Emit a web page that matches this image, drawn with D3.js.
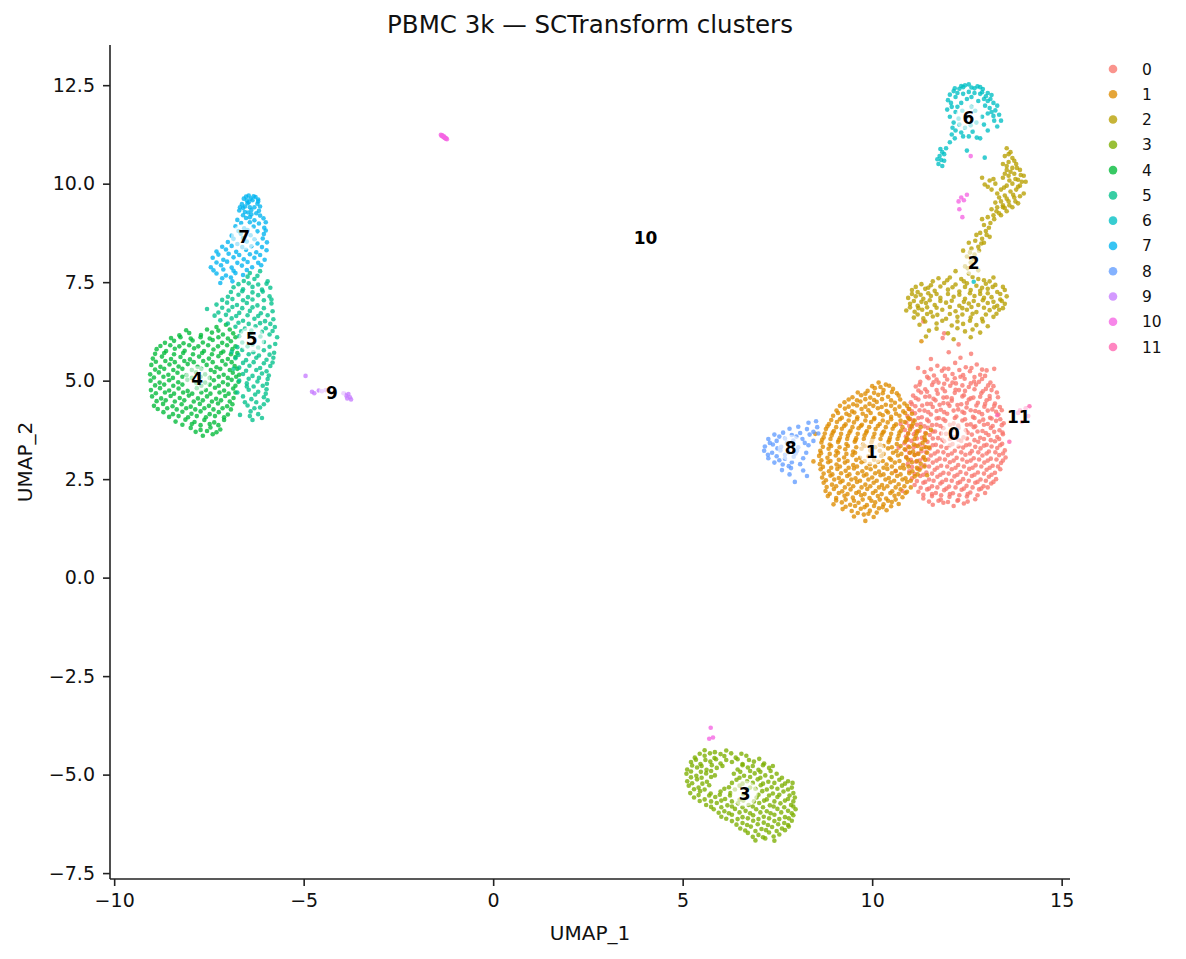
<!DOCTYPE html>
<html><head><meta charset="utf-8">
<script src="https://cdn.jsdelivr.net/npm/d3@7"></script>
<style>body{margin:0;background:#fff}svg{font-family:"DejaVu Sans",sans-serif}</style>
</head><body><svg id="c" width="1186" height="959"></svg>
<script>
const clusterNames = ["0","1","2","3","4","5","6","7","8","9","10","11"];
const clusterColors = ["#F8766D","#DE8C00","#B79F00","#7CAE00","#00BA38","#00C08B","#00BFC4","#00B4F0","#619CFF","#C77CFF","#F564E3","#FF64B0"];
const xTicks = [-10,-5,0,5,10,15];
const yTicks = [-7.5,-5,-2.5,0,2.5,5,7.5,10,12.5];

const c0 = [[11.72,5.38],[12.01,5.30],[12.19,5.45],[12.47,5.34],[12.76,5.41],
[11.38,5.22],[11.63,5.13],[11.84,5.25],[12.12,5.17],[12.33,5.10],[12.58,5.24],[12.85,5.15],[13.02,5.26],
[11.27,4.97],[11.49,5.06],[11.75,4.95],[11.98,5.03],[12.21,4.93],[12.44,5.05],[12.69,4.98],[12.9,5.04],[13.12,4.95],
[11.15,4.85],[11.4,4.78],[11.58,4.89],[11.86,4.80],[12.06,4.87],[12.29,4.76],[12.55,4.84],[12.74,4.90],[13.0,4.79],[13.2,4.86],
[11.08,4.62],[11.29,4.70],[11.51,4.60],[11.73,4.67],[11.97,4.58],[12.18,4.69],[12.42,4.63],[12.67,4.57],[12.88,4.68],[13.1,4.61],[13.29,4.70],
[11.02,4.45],[11.22,4.52],[11.45,4.41],[11.67,4.50],[11.88,4.43],[12.1,4.49],[12.35,4.40],[12.55,4.52],[12.79,4.44],[13.02,4.50],[13.24,4.42],
[10.96,4.28],[11.14,4.35],[11.38,4.24],[11.6,4.33],[11.81,4.26],[12.04,4.36],[12.27,4.27],[12.49,4.32],[12.72,4.23],[12.96,4.34],[13.17,4.27],[13.37,4.33],
[10.93,4.10],[11.13,4.17],[11.31,4.07],[11.55,4.14],[11.76,4.05],[11.98,4.16],[12.22,4.09],[12.43,4.18],[12.66,4.08],[12.9,4.15],[13.11,4.06],[13.33,4.14],
[10.9,3.93],[11.08,3.99],[11.28,3.90],[11.49,3.97],[11.7,3.88],[11.93,3.98],[12.15,3.91],[12.38,3.99],[12.6,3.89],[12.83,3.96],[13.05,3.90],[13.27,3.98],[13.47,3.92],
[10.86,3.75],[11.05,3.82],[11.25,3.73],[11.47,3.80],[11.66,3.71],[11.88,3.79],[12.1,3.74],[12.28,3.8],[12.47,3.74],[12.68,3.82],[12.91,3.72],[13.13,3.80],[13.36,3.74],
[10.89,3.58],[11.1,3.64],[11.31,3.55],[11.52,3.62],[11.74,3.54],[11.95,3.65],[12.17,3.57],[12.41,3.56],[12.63,3.63],[12.85,3.55],[13.07,3.62],[13.3,3.57],[13.45,3.64],
[10.85,3.41],[11.04,3.47],[11.26,3.38],[11.46,3.45],[11.68,3.37],[11.9,3.46],[12.12,3.39],[12.35,3.47],[12.57,3.38],[12.8,3.45],[13.02,3.37],[13.24,3.46],[13.43,3.40],
[10.88,3.24],[11.09,3.30],[11.3,3.21],[11.52,3.28],[11.73,3.20],[11.96,3.29],[12.18,3.22],[12.4,3.30],[12.63,3.21],[12.86,3.28],[13.08,3.20],[13.3,3.29],[13.5,3.23],
[10.9,3.06],[11.12,3.12],[11.34,3.03],[11.55,3.10],[11.78,3.02],[12.0,3.11],[12.23,3.04],[12.46,3.12],[12.68,3.03],[12.91,3.10],[13.13,3.02],[13.35,3.11],[13.52,3.05],
[10.94,2.88],[11.16,2.94],[11.38,2.85],[11.6,2.92],[11.82,2.84],[12.05,2.93],[12.27,2.86],[12.5,2.94],[12.73,2.85],[12.96,2.92],[13.18,2.84],[13.4,2.91],
[10.98,2.70],[11.2,2.76],[11.43,2.67],[11.65,2.74],[11.88,2.66],[12.1,2.75],[12.33,2.68],[12.56,2.76],[12.79,2.67],[13.02,2.74],[13.24,2.66],[13.38,2.75],
[11.05,2.52],[11.27,2.58],[11.5,2.49],[11.72,2.56],[11.95,2.48],[12.17,2.57],[12.4,2.50],[12.63,2.58],[12.86,2.49],[13.08,2.56],[13.27,2.50],
[11.12,2.35],[11.35,2.41],[11.58,2.32],[11.8,2.39],[12.03,2.31],[12.26,2.40],[12.49,2.33],[12.72,2.41],[12.94,2.32],[13.14,2.39],
[11.22,2.18],[11.45,2.24],[11.68,2.15],[11.9,2.22],[12.13,2.14],[12.36,2.23],[12.59,2.16],[12.82,2.24],[12.98,2.15],
[11.35,2.01],[11.58,2.07],[11.81,1.98],[12.04,2.05],[12.27,1.97],[12.5,2.06],[12.72,1.99],
[11.6,1.85],[11.88,1.90],[12.15,1.82],[12.42,1.88],
[11.86,6.08],[12.28,5.92],[12.02,5.72],[12.61,5.68],[11.55,5.55],[12.33,5.58],[11.21,5.32],[13.22,5.3],[10.7,3.3],[10.62,2.7],[10.75,3.9],[10.8,2.2],[11.35,6.5],[11.9,6.2],
[11.55,5.29],[11.9,5.31],[12.3,5.27],[12.62,5.32],[12.9,5.28],
[11.45,5.1],[11.7,5.03],[11.92,5.12],[12.18,5.06],[12.4,5.14],[12.7,5.09],[12.98,5.12],
[11.25,4.9],[11.62,4.96],[11.9,4.92],[12.12,4.95],[12.38,4.88],[12.6,4.93],[12.82,4.97],[13.06,4.88],
[11.22,4.75],[11.45,4.72],[11.7,4.76],[11.92,4.73],[12.2,4.77],[12.45,4.74],[12.7,4.78],[12.92,4.73],[13.15,4.76],
[11.15,4.56],[11.4,4.59],[11.62,4.54],[11.88,4.57],[12.1,4.55],[12.38,4.6],[12.6,4.55],[12.85,4.59],[13.1,4.54],[13.32,4.58],
[11.05,4.4],[11.32,4.37],[11.55,4.41],[11.78,4.39],[12.0,4.42],[12.25,4.38],[12.5,4.43],[12.75,4.37],[12.98,4.41],[13.22,4.36],
[11.05,4.22],[11.25,4.25],[11.48,4.2],[11.7,4.23],[11.9,4.2],[12.15,4.24],[12.38,4.21],[12.6,4.25],[12.82,4.2],[13.05,4.24],[13.27,4.21],[13.42,4.25],
[11.0,4.03],[11.22,4.05],[11.45,4.01],[11.7,4.04],[11.88,4.02],[12.18,4.05],[12.45,4.02],[12.7,4.05],[12.93,4.01],[13.15,4.04],[13.38,4.02],
[10.98,3.85],[11.18,3.88],[11.38,3.84],[11.58,3.87],[11.8,3.85],[12.05,3.88],[12.27,3.86],[12.5,3.88],[12.72,3.84],[12.95,3.88],[13.18,3.85],[13.42,3.87],
[10.95,3.67],[11.15,3.7],[11.4,3.67],[11.6,3.71],[11.82,3.66],[12.52,3.68],[12.78,3.71],[13.0,3.67],[13.22,3.7],[13.44,3.68],
[10.95,3.5],[11.18,3.53],[11.38,3.5],[11.6,3.53],[11.85,3.5],[12.05,3.52],[12.28,3.5],[12.5,3.53],[12.7,3.49],[12.95,3.52],[13.13,3.49],[13.35,3.52],
[10.95,3.33],[11.15,3.35],[11.38,3.32],[11.6,3.36],[11.82,3.33],[12.05,3.36],[12.28,3.33],[12.48,3.36],[12.72,3.32],[12.95,3.35],[13.15,3.33],[13.38,3.36],
[10.98,3.17],[11.2,3.15],[11.42,3.18],[11.65,3.15],[11.88,3.18],[12.1,3.15],[12.35,3.18],[12.58,3.15],[12.8,3.18],[13.02,3.15],[13.25,3.18],[13.45,3.15],
[11.02,2.99],[11.25,2.97],[11.48,3.0],[11.7,2.97],[11.92,3.0],[12.15,2.97],[12.38,3.0],[12.6,2.97],[12.82,3.0],[13.05,2.97],[13.28,3.0],[13.45,2.97],
[11.05,2.81],[11.28,2.79],[11.5,2.82],[11.72,2.79],[11.98,2.82],[12.2,2.79],[12.42,2.82],[12.65,2.79],[12.88,2.82],[13.1,2.79],[13.32,2.82],
[11.12,2.63],[11.35,2.61],[11.58,2.64],[11.8,2.61],[12.02,2.64],[12.25,2.61],[12.48,2.64],[12.7,2.61],[12.95,2.64],[13.15,2.61],
[11.18,2.45],[11.4,2.43],[11.62,2.46],[11.85,2.43],[12.1,2.46],[12.32,2.43],[12.55,2.46],[12.78,2.43],[13.0,2.46],[13.2,2.43],
[11.28,2.28],[11.5,2.26],[11.72,2.29],[11.96,2.26],[12.2,2.29],[12.42,2.26],[12.65,2.29],[12.88,2.26],[13.05,2.29],
[11.35,2.1],[11.58,2.12],[11.82,2.09],[12.05,2.12],[12.3,2.09],[12.52,2.12],[12.78,2.09],
[11.5,1.93],[11.75,1.95],[12.0,1.92],[12.25,1.95],[12.52,1.93]];

const c1 = [[10.17,4.95],[10.36,4.9],
[9.88,4.74],[10.07,4.81],[10.3,4.76],[10.55,4.79],
[9.48,4.58],[9.71,4.63],[9.95,4.57],[10.16,4.64],[10.42,4.59],[10.7,4.62],
[9.27,4.45],[9.5,4.4],[9.69,4.47],[9.93,4.41],[10.12,4.46],[10.36,4.39],[10.6,4.44],[10.85,4.42],
[9.06,4.24],[9.28,4.29],[9.47,4.22],[9.72,4.28],[9.9,4.25],[10.15,4.3],[10.38,4.23],[10.6,4.27],[10.82,4.22],[10.98,4.28],
[8.97,4.11],[9.2,4.06],[9.4,4.12],[9.61,4.07],[9.84,4.1],[10.06,4.05],[10.28,4.12],[10.5,4.08],[10.72,4.11],[10.95,4.06],
[8.86,3.9],[9.07,3.95],[9.3,3.89],[9.52,3.94],[9.73,3.88],[9.97,3.95],[10.2,3.9],[10.41,3.94],[10.63,3.89],[10.86,3.95],[11.08,3.91],
[8.78,3.77],[8.99,3.72],[9.2,3.78],[9.43,3.73],[9.64,3.79],[9.86,3.72],[10.09,3.77],[10.31,3.71],[10.54,3.78],[10.76,3.73],[11.0,3.76],[11.2,3.72],
[8.72,3.56],[8.93,3.61],[9.15,3.55],[9.36,3.6],[9.58,3.54],[9.8,3.61],[10.03,3.56],[10.25,3.62],[10.47,3.55],[10.7,3.6],[10.92,3.54],[11.15,3.6],[11.38,3.57],
[8.66,3.43],[8.88,3.38],[9.1,3.44],[9.32,3.39],[9.54,3.45],[9.76,3.38],[9.98,3.43],[10.2,3.37],[10.43,3.44],[10.65,3.39],[10.87,3.45],[11.1,3.38],[11.33,3.42],
[8.63,3.22],[8.85,3.27],[9.06,3.21],[9.29,3.26],[9.5,3.2],[9.72,3.27],[9.95,3.23],[10.2,3.22],[10.42,3.28],[10.64,3.21],[10.86,3.26],[11.08,3.2],[11.3,3.27],
[8.6,3.09],[8.82,3.04],[9.04,3.1],[9.26,3.05],[9.48,3.11],[9.68,3.04],[9.9,3.08],[10.24,3.09],[10.46,3.03],[10.68,3.1],[10.9,3.05],[11.12,3.11],[11.36,3.06],
[8.62,2.88],[8.84,2.93],[9.06,2.87],[9.28,2.92],[9.5,2.86],[9.72,2.93],[9.94,2.88],[10.16,2.94],[10.38,2.87],[10.6,2.92],[10.82,2.86],[11.05,2.93],[11.28,2.89],
[8.64,2.75],[8.86,2.7],[9.08,2.76],[9.3,2.71],[9.52,2.77],[9.74,2.7],[9.96,2.75],[10.18,2.69],[10.4,2.76],[10.62,2.71],[10.84,2.77],[11.06,2.7],[11.25,2.74],
[8.68,2.54],[8.9,2.59],[9.12,2.53],[9.34,2.58],[9.56,2.52],[9.78,2.59],[10.0,2.54],[10.22,2.6],[10.44,2.53],[10.66,2.58],[10.88,2.52],[11.12,2.57],
[8.72,2.41],[8.94,2.36],[9.16,2.42],[9.38,2.37],[9.6,2.43],[9.82,2.36],[10.04,2.41],[10.26,2.35],[10.48,2.42],[10.7,2.37],[10.92,2.43],
[8.77,2.2],[8.99,2.25],[9.21,2.19],[9.43,2.24],[9.65,2.18],[9.87,2.25],[10.09,2.2],[10.31,2.26],[10.53,2.19],[10.75,2.24],[10.92,2.18],
[8.83,2.07],[9.05,2.02],[9.27,2.08],[9.49,2.03],[9.71,2.09],[9.93,2.02],[10.15,2.07],[10.37,2.01],[10.59,2.08],[10.8,2.04],
[8.98,1.86],[9.2,1.91],[9.42,1.85],[9.64,1.9],[9.86,1.84],[10.08,1.91],[10.3,1.86],[10.52,1.92],[10.7,1.87],
[9.22,1.74],[9.46,1.69],[9.7,1.75],[9.94,1.7],[10.18,1.76],[10.38,1.71],
[9.52,1.55],[9.78,1.6],[10.04,1.54],[9.82,1.44],
[11.5,3.3],[11.45,2.6],[11.55,3.75],[8.45,2.95],[8.5,3.65],[11.3,6.0],
[10.0,4.86],[10.22,4.84],[10.45,4.87],
[9.62,4.7],[9.82,4.67],[10.05,4.69],[10.28,4.68],[10.52,4.71],[10.65,4.68],
[9.38,4.52],[9.6,4.5],[9.82,4.53],[10.05,4.51],[10.26,4.53],[10.5,4.5],[10.74,4.52],
[9.15,4.36],[9.38,4.34],[9.6,4.37],[9.82,4.34],[10.03,4.36],[10.25,4.33],[10.5,4.36],[10.72,4.34],[10.92,4.36],
[9.1,4.18],[9.32,4.16],[9.53,4.19],[9.75,4.16],[9.96,4.18],[10.2,4.16],[10.42,4.19],[10.63,4.16],[10.87,4.18],[11.05,4.16],
[8.92,4.0],[9.15,4.02],[9.38,3.99],[9.6,4.02],[9.82,3.99],[10.05,4.02],[10.28,3.99],[10.5,4.02],[10.75,3.99],[10.98,4.02],[11.12,3.99],
[8.82,3.84],[9.05,3.82],[9.26,3.85],[9.48,3.82],[9.7,3.85],[9.92,3.82],[10.15,3.85],[10.36,3.82],[10.58,3.85],[10.8,3.82],[11.04,3.85],[11.28,3.82],
[8.75,3.66],[8.96,3.68],[9.18,3.65],[9.4,3.68],[9.62,3.65],[9.84,3.68],[10.06,3.65],[10.28,3.68],[10.5,3.65],[10.72,3.68],[10.95,3.65],[11.18,3.68],[11.42,3.66],
[8.68,3.5],[8.9,3.52],[9.12,3.49],[9.34,3.52],[9.56,3.49],[9.78,3.52],[10.0,3.49],[10.22,3.52],[10.45,3.49],[10.67,3.52],[10.9,3.49],[11.12,3.52],[11.4,3.49],
[8.7,3.32],[8.92,3.34],[9.14,3.31],[9.36,3.34],[9.58,3.31],[9.8,3.34],[10.08,3.31],[10.3,3.34],[10.52,3.31],[10.75,3.34],[10.98,3.31],[11.2,3.34],[11.42,3.31],
[8.65,3.16],[8.88,3.14],[9.1,3.17],[9.32,3.14],[9.55,3.17],[10.3,3.14],[10.55,3.17],[10.77,3.14],[11.0,3.17],[11.22,3.14],[11.45,3.17],
[8.66,2.98],[8.9,2.96],[9.12,2.99],[9.35,2.96],[9.58,2.99],[9.8,2.96],[10.05,2.99],[10.28,2.96],[10.5,2.99],[10.72,2.96],[10.95,2.99],[11.18,2.96],[11.4,2.99],
[8.7,2.81],[8.92,2.79],[9.15,2.82],[9.38,2.79],[9.6,2.82],[9.85,2.79],[10.08,2.82],[10.3,2.79],[10.52,2.82],[10.74,2.79],[10.96,2.82],[11.18,2.79],[11.38,2.82],
[8.72,2.64],[8.95,2.62],[9.18,2.65],[9.4,2.62],[9.62,2.65],[9.85,2.62],[10.08,2.65],[10.3,2.62],[10.52,2.65],[10.75,2.62],[10.98,2.65],[11.2,2.62],
[8.78,2.47],[9.0,2.49],[9.22,2.46],[9.45,2.49],[9.68,2.46],[9.9,2.49],[10.12,2.46],[10.35,2.49],[10.58,2.46],[10.8,2.49],[11.02,2.46],
[8.8,2.3],[9.05,2.32],[9.28,2.29],[9.5,2.32],[9.72,2.29],[9.95,2.32],[10.18,2.29],[10.4,2.32],[10.62,2.29],[10.85,2.32],[11.02,2.29],
[8.88,2.13],[9.12,2.15],[9.35,2.12],[9.58,2.15],[9.8,2.12],[10.02,2.15],[10.25,2.12],[10.48,2.15],[10.7,2.12],[10.88,2.15],
[9.05,1.96],[9.3,1.98],[9.52,1.95],[9.75,1.98],[9.98,1.95],[10.2,1.98],[10.42,1.95],[10.62,1.98],
[9.3,1.8],[9.55,1.82],[9.8,1.79],[10.05,1.82],[10.28,1.79],[10.5,1.81],
[9.62,1.64],[9.9,1.62],[10.12,1.65]];

const c2 = [[12.2,7.78],[12.55,7.72],[12.8,7.8],
[11.75,7.6],[12.05,7.62],[12.35,7.58],[12.65,7.63],[12.95,7.55],[13.2,7.62],
[11.3,7.45],[11.55,7.42],[11.9,7.48],[12.2,7.44],[12.5,7.47],[12.75,7.41],[13.0,7.46],[13.25,7.43],[13.45,7.38],
[11.05,7.3],[11.2,7.25],[11.4,7.33],[11.65,7.28],[12.0,7.31],[12.3,7.26],[12.6,7.3],[12.85,7.28],[13.05,7.33],[13.3,7.25],[13.5,7.3],
[10.95,7.1],[11.15,7.14],[11.35,7.08],[11.55,7.15],[11.8,7.1],[12.15,7.13],[12.45,7.08],[12.7,7.15],[12.95,7.1],[13.15,7.12],[13.38,7.06],[13.55,7.14],
[11.0,6.95],[11.2,6.9],[11.42,6.97],[11.65,6.92],[11.95,6.98],[12.3,6.9],[12.55,6.96],[12.8,6.92],[13.05,6.97],[13.3,6.9],[13.5,6.95],
[10.9,6.78],[11.12,6.75],[11.32,6.8],[11.55,6.74],[11.85,6.8],[12.2,6.76],[12.5,6.8],[12.75,6.74],[13.1,6.79],[13.35,6.8],
[11.1,6.6],[11.35,6.58],[11.6,6.63],[11.95,6.57],[12.25,6.62],[12.6,6.6],[12.9,6.57],[13.2,6.62],
[11.25,6.42],[11.7,6.45],[12.1,6.4],[12.4,6.44],[12.75,6.41],[13.05,6.38],
[11.5,6.27],[12.0,6.2],[12.45,6.25],[12.85,6.22],
[11.42,6.12],[12.15,6.05],[12.6,6.1],
[11.6,7.52],[11.98,7.55],[12.42,7.52],[12.8,7.58],[13.1,7.52],[11.15,7.38],[11.48,7.36],[11.8,7.39],[12.12,7.37],[12.45,7.38],[12.9,7.36],[13.18,7.38],[13.38,7.2],[11.05,7.2],[11.28,7.18],[11.48,7.22],[11.7,7.2],[12.0,7.2],[12.3,7.18],[12.58,7.22],[12.85,7.2],[13.05,7.22],[11.1,7.02],[11.3,7.0],[11.52,7.04],[11.8,7.02],[12.1,7.03],[12.42,7.0],[12.68,7.02],[12.92,7.04],[13.2,7.0],[13.42,7.02],[11.0,6.86],[11.22,6.84],[11.45,6.86],[11.7,6.85],[12.05,6.87],[12.38,6.84],[12.62,6.87],[12.95,6.85],[13.22,6.86],[13.45,6.84],[11.2,6.68],[11.45,6.69],[11.72,6.67],[12.05,6.69],[12.38,6.68],[12.65,6.7],[13.0,6.68],[13.28,6.7],[11.4,6.5],[11.85,6.52],[12.25,6.5],[12.58,6.52],[12.92,6.5],[11.7,6.32],[12.25,6.33],[12.65,6.3],
[12.45,7.9],[12.6,8.0],[12.5,8.15],[12.7,8.2],[12.62,8.35],[12.8,8.4],[12.72,8.55],[12.9,8.6],[12.85,8.75],[13.0,8.8],[12.95,8.95],[13.12,9.0],[13.05,9.15],[13.2,9.2],[13.15,9.35],[13.3,9.4],[13.25,9.52],[13.4,9.55],[12.75,8.7],[12.95,8.5],[13.1,8.65],[13.35,9.25],[12.9,9.1],[12.55,8.5],[12.4,8.3],
[12.52,7.85],[12.68,8.08],[12.58,8.25],[12.82,8.3],[12.88,8.48],[13.02,8.7],[13.08,8.88],[13.22,9.1],[13.28,9.3],[13.45,9.4],
[13.55,10.9],[13.65,10.8],[13.5,10.7],[13.7,10.65],[13.6,10.55],[13.8,10.5],[13.45,10.5],[13.7,10.4],[13.9,10.35],[13.55,10.35],[13.75,10.25],[14.0,10.2],[13.6,10.2],[13.85,10.1],[13.45,10.15],[14.05,10.05],[13.7,10.0],[13.55,9.95],[13.9,9.95],[13.8,9.85],[13.4,9.85],[13.65,9.8],[14.0,9.75],[13.5,9.7],[13.75,9.65],[13.35,9.65],[13.6,9.55],[13.85,9.5],[13.45,9.45],[13.7,9.4],[13.55,9.3],[13.4,9.2],[12.9,10.15],[13.1,10.08],[12.97,9.98],[13.25,10.0],[13.3,9.75],[13.15,9.85],
[13.6,10.75],[13.75,10.58],[13.55,10.45],[13.82,10.4],[13.65,10.3],[13.92,10.22],[13.5,10.25],[13.78,10.12],[13.95,10.05],[13.62,10.08],[13.85,9.92],[13.48,9.9],[13.72,9.72],[13.9,9.68],[13.55,9.62],[13.78,9.55],[13.62,9.45],[13.5,9.38],[13.2,10.12],[13.05,9.92]];

const c3 = [[5.58,-4.38],[5.85,-4.43],[6.15,-4.39],
[5.32,-4.57],[5.58,-4.52],[5.84,-4.58],[6.1,-4.53],[6.4,-4.57],[6.68,-4.52],
[5.22,-4.68],[5.47,-4.73],[5.73,-4.67],[6.0,-4.72],[6.3,-4.68],[6.58,-4.73],[6.88,-4.67],[7.15,-4.72],
[5.12,-4.87],[5.38,-4.82],[5.63,-4.88],[5.9,-4.83],[6.45,-4.87],[6.72,-4.82],[7.0,-4.88],[7.28,-4.83],
[5.1,-4.98],[5.36,-5.03],[5.62,-4.97],[5.85,-5.02],[6.35,-4.98],[6.62,-5.03],[6.9,-4.97],[7.18,-5.02],[7.48,-4.98],
[5.12,-5.17],[5.38,-5.12],[5.64,-5.18],[6.42,-5.13],[6.7,-5.17],[6.98,-5.12],[7.26,-5.18],[7.55,-5.13],[7.78,-5.17],
[5.16,-5.28],[5.42,-5.33],[5.7,-5.27],[6.22,-5.32],[6.5,-5.28],[6.78,-5.33],[7.06,-5.27],[7.35,-5.32],[7.62,-5.28],[7.88,-5.33],
[5.2,-5.47],[5.46,-5.42],[5.74,-5.48],[6.0,-5.43],[6.26,-5.47],[6.6,-5.5],[7.1,-5.42],[7.38,-5.48],[7.66,-5.43],[7.92,-5.47],
[5.3,-5.58],[5.58,-5.63],[5.86,-5.57],[6.12,-5.62],[6.5,-5.64],[6.95,-5.58],[7.22,-5.63],[7.5,-5.57],[7.78,-5.62],[7.96,-5.58],
[5.62,-5.77],[5.9,-5.72],[6.18,-5.78],[6.46,-5.73],[6.74,-5.77],[7.02,-5.72],[7.3,-5.78],[7.58,-5.73],[7.86,-5.77],
[5.82,-5.88],[6.1,-5.93],[6.38,-5.87],[6.66,-5.92],[6.94,-5.88],[7.22,-5.93],[7.5,-5.87],[7.78,-5.92],[7.98,-5.88],
[6.02,-6.07],[6.3,-6.02],[6.58,-6.08],[6.86,-6.03],[7.14,-6.07],[7.42,-6.02],[7.7,-6.08],[7.92,-6.03],
[6.3,-6.18],[6.58,-6.23],[6.86,-6.17],[7.14,-6.22],[7.42,-6.18],[7.68,-6.23],[7.88,-6.17],
[6.52,-6.37],[6.8,-6.32],[7.08,-6.38],[7.36,-6.33],[7.62,-6.37],[7.8,-6.32],
[6.72,-6.48],[7.0,-6.53],[7.28,-6.47],[7.55,-6.52],
[6.92,-6.67],[7.18,-6.62],[7.42,-6.68],
[5.45,-4.47],[5.72,-4.46],[6.0,-4.48],[6.28,-4.46],[6.55,-4.47],
[5.35,-4.62],[5.6,-4.63],[5.88,-4.61],[6.15,-4.63],[6.45,-4.61],[6.75,-4.63],[7.02,-4.6],
[5.25,-4.77],[5.5,-4.78],[5.77,-4.76],[6.05,-4.78],[6.58,-4.76],[6.85,-4.78],[7.12,-4.76],[7.38,-4.78],
[5.22,-4.92],[5.48,-4.93],[5.75,-4.91],[6.52,-4.93],[6.78,-4.91],[7.05,-4.93],[7.32,-4.91],
[5.22,-5.07],[5.5,-5.08],[5.75,-5.06],[6.5,-5.08],[6.78,-5.06],[7.05,-5.08],[7.35,-5.06],[7.62,-5.08],
[5.25,-5.22],[5.52,-5.23],[6.3,-5.21],[6.58,-5.23],[6.85,-5.21],[7.12,-5.23],[7.42,-5.21],[7.7,-5.23],[7.9,-5.21],
[5.3,-5.37],[5.58,-5.38],[6.1,-5.36],[6.38,-5.38],[6.92,-5.36],[7.22,-5.38],[7.5,-5.36],[7.78,-5.38],
[5.42,-5.52],[5.7,-5.53],[5.98,-5.51],[6.25,-5.53],[7.0,-5.51],[7.28,-5.53],[7.55,-5.51],[7.82,-5.53],
[5.45,-5.67],[5.75,-5.68],[6.02,-5.66],[6.3,-5.68],[6.6,-5.66],[6.88,-5.68],[7.15,-5.66],[7.42,-5.68],[7.7,-5.66],[7.92,-5.68],
[5.75,-5.82],[6.02,-5.83],[6.3,-5.81],[6.58,-5.83],[6.85,-5.81],[7.12,-5.83],[7.4,-5.81],[7.68,-5.83],[7.92,-5.81],
[5.95,-5.97],[6.22,-5.98],[6.5,-5.96],[6.78,-5.98],[7.05,-5.96],[7.32,-5.98],[7.6,-5.96],[7.88,-5.98],
[6.15,-6.12],[6.45,-6.13],[6.72,-6.11],[7.0,-6.13],[7.28,-6.11],[7.55,-6.13],[7.8,-6.11],
[6.42,-6.27],[6.7,-6.28],[6.98,-6.26],[7.25,-6.28],[7.52,-6.26],[7.78,-6.28],
[6.65,-6.42],[6.92,-6.43],[7.2,-6.41],[7.48,-6.43],[7.7,-6.41],
[6.85,-6.58],[7.12,-6.59],[7.4,-6.57]];

const c4 = [[-7.3,6.36],[-7.05,6.42],
[-8.28,6.15],[-8.02,6.21],[-7.71,6.16],[-7.42,6.22],[-7.13,6.17],[-6.86,6.2],
[-8.66,5.96],[-8.42,6.01],[-8.17,5.95],[-7.93,6.02],[-7.66,5.97],[-7.4,6.03],[-7.15,5.96],[-6.92,6.0],
[-8.88,5.8],[-8.63,5.75],[-8.4,5.81],[-8.14,5.76],[-7.89,5.82],[-7.63,5.75],[-7.38,5.79],[-7.12,5.74],[-6.88,5.8],
[-8.98,5.56],[-8.74,5.61],[-8.5,5.55],[-8.25,5.6],[-8.0,5.54],[-7.76,5.61],[-7.5,5.56],[-7.25,5.62],[-7.0,5.55],[-6.8,5.6],
[-9.02,5.4],[-8.78,5.35],[-8.54,5.41],[-8.3,5.36],[-8.06,5.42],[-7.8,5.35],[-7.56,5.4],[-7.3,5.34],[-7.06,5.41],[-6.82,5.37],
[-9.05,5.16],[-8.82,5.21],[-8.57,5.15],[-8.33,5.2],[-8.09,5.14],[-7.84,5.21],[-7.6,5.16],[-7.35,5.22],[-7.11,5.15],[-6.87,5.2],[-6.7,5.15],
[-9.04,5.0],[-8.8,4.95],[-8.55,5.01],[-8.31,4.96],[-8.07,5.02],[-7.83,4.94],[-7.6,4.95],[-7.37,5.01],[-7.13,4.96],[-6.9,5.02],[-6.72,4.97],
[-9.03,4.76],[-8.79,4.81],[-8.55,4.75],[-8.3,4.8],[-8.06,4.74],[-7.82,4.81],[-7.58,4.76],[-7.34,4.82],[-7.1,4.75],[-6.86,4.8],
[-9.0,4.6],[-8.76,4.55],[-8.51,4.61],[-8.27,4.56],[-8.03,4.62],[-7.79,4.55],[-7.55,4.6],[-7.31,4.54],[-7.07,4.61],[-6.85,4.56],
[-8.95,4.36],[-8.71,4.41],[-8.46,4.35],[-8.22,4.4],[-7.98,4.34],[-7.74,4.41],[-7.5,4.36],[-7.26,4.42],[-7.02,4.35],[-6.88,4.4],
[-8.7,4.2],[-8.45,4.15],[-8.2,4.21],[-7.96,4.16],[-7.72,4.22],[-7.48,4.15],[-7.24,4.2],[-7.0,4.14],
[-8.38,3.96],[-8.12,4.01],[-7.88,3.95],[-7.62,4.0],[-7.36,3.94],[-7.1,4.0],
[-7.98,3.8],[-7.72,3.75],[-7.46,3.81],[-7.2,3.76],
[-7.66,3.6],[-7.4,3.64],
[-8.1,6.28],[-7.55,6.3],[-7.25,6.27],[-6.95,6.3],
[-8.5,6.08],[-8.25,6.1],[-7.98,6.07],[-7.72,6.1],[-7.48,6.07],[-7.25,6.1],[-7.0,6.07],[-6.8,6.1],
[-8.78,5.88],[-8.52,5.9],[-8.28,5.87],[-8.02,5.9],[-7.78,5.87],[-7.52,5.9],[-7.26,5.87],[-7.02,5.9],[-6.8,5.87],
[-8.92,5.68],[-8.68,5.7],[-8.42,5.67],[-8.18,5.7],[-7.92,5.67],[-7.68,5.7],[-7.42,5.67],[-7.18,5.7],[-6.92,5.67],[-6.75,5.7],
[-8.9,5.48],[-8.65,5.5],[-8.4,5.47],[-8.15,5.5],[-7.9,5.47],[-7.65,5.5],[-7.4,5.47],[-7.15,5.5],[-6.9,5.47],
[-8.92,5.28],[-8.68,5.3],[-8.44,5.27],[-8.2,5.3],[-7.95,5.27],[-7.7,5.3],[-7.45,5.27],[-7.2,5.3],[-6.95,5.27],[-6.75,5.3],
[-8.95,5.08],[-8.7,5.1],[-8.45,5.07],[-8.2,5.1],[-7.95,5.07],[-7.72,5.1],[-7.48,5.07],[-7.24,5.1],[-7.0,5.07],[-6.78,5.1],
[-8.92,4.88],[-8.68,4.9],[-8.44,4.87],[-8.2,4.9],[-7.7,4.87],[-7.48,4.9],[-7.24,4.87],[-7.0,4.9],[-6.8,4.87],
[-8.9,4.68],[-8.66,4.7],[-8.42,4.67],[-8.18,4.7],[-7.94,4.67],[-7.7,4.7],[-7.46,4.67],[-7.22,4.7],[-6.98,4.67],[-6.8,4.7],
[-8.88,4.48],[-8.64,4.5],[-8.4,4.47],[-8.15,4.5],[-7.9,4.47],[-7.66,4.5],[-7.42,4.47],[-7.18,4.5],[-6.95,4.47],
[-8.85,4.28],[-8.6,4.3],[-8.35,4.27],[-8.1,4.3],[-7.86,4.27],[-7.62,4.3],[-7.38,4.27],[-7.14,4.3],[-6.92,4.27],
[-8.55,4.08],[-8.3,4.1],[-8.05,4.07],[-7.82,4.1],[-7.58,4.07],[-7.34,4.1],[-7.1,4.07],
[-8.2,3.88],[-7.95,3.9],[-7.72,3.87],[-7.48,3.9],[-7.25,3.87],
[-7.85,3.7],[-7.55,3.72],[-7.3,3.69]];

const c5 = [[-6.42,7.73],[-6.15,7.78],
[-6.58,7.53],[-6.3,7.58],[-5.95,7.52],
[-6.85,7.37],[-6.6,7.32],[-6.35,7.38],[-6.1,7.31],[-5.88,7.36],
[-7.0,7.13],[-6.72,7.18],[-6.47,7.12],[-6.2,7.17],[-5.9,7.14],
[-7.3,6.93],[-7.02,6.98],[-6.76,6.92],[-6.5,6.97],[-6.22,6.91],[-5.85,6.96],
[-7.55,6.82],[-7.25,6.73],[-6.98,6.78],[-6.7,6.72],[-6.42,6.77],[-6.13,6.71],[-5.82,6.76],
[-7.2,6.53],[-6.9,6.58],[-6.6,6.52],[-6.3,6.57],[-6.02,6.51],[-5.8,6.56],
[-6.8,6.37],[-6.55,6.32],[-6.27,6.38],[-6.0,6.33],[-5.76,6.36],
[-6.7,6.13],[-6.42,6.18],[-6.14,6.12],[-5.9,6.17],[-5.7,6.1],
[-6.62,5.97],[-6.35,5.92],[-6.05,5.98],[-5.75,5.93],
[-6.9,5.73],[-6.62,5.78],[-6.33,5.72],[-6.05,5.77],[-5.78,5.71],
[-6.8,5.57],[-6.52,5.52],[-6.25,5.58],[-5.98,5.53],[-5.8,5.58],
[-6.7,5.33],[-6.43,5.38],[-6.15,5.32],[-5.88,5.37],
[-6.6,5.17],[-6.35,5.12],[-6.1,5.18],[-5.92,5.13],
[-6.5,4.93],[-6.22,4.98],[-5.97,4.92],
[-6.45,4.77],[-6.2,4.72],[-5.98,4.78],
[-6.38,4.53],[-6.05,4.58],
[-6.48,4.37],[-6.15,4.32],
[-6.68,4.13],[-6.42,4.1],
[-6.48,7.64],[-6.22,7.66],
[-6.72,7.45],[-6.45,7.47],[-6.2,7.44],[-5.98,7.46],
[-6.92,7.25],[-6.62,7.27],[-6.35,7.24],[-6.08,7.26],
[-7.15,7.05],[-6.88,7.07],[-6.6,7.04],[-6.35,7.06],[-6.05,7.04],[-5.85,7.06],
[-7.15,6.85],[-6.88,6.87],[-6.62,6.84],[-6.35,6.86],[-6.05,6.84],
[-7.35,6.65],[-7.05,6.67],[-6.78,6.64],[-6.48,6.66],[-6.2,6.64],[-5.95,6.66],
[-7.0,6.45],[-6.72,6.47],[-6.45,6.44],[-6.15,6.46],[-5.88,6.44],
[-6.65,6.25],[-6.38,6.27],[-6.1,6.24],[-5.82,6.26],
[-6.75,5.85],[-6.48,5.87],[-6.2,5.84],[-5.9,5.86],
[-6.72,5.65],[-6.45,5.67],[-6.18,5.64],[-5.9,5.66],
[-6.6,5.45],[-6.32,5.47],[-6.05,5.44],[-5.82,5.46],
[-6.52,5.25],[-6.25,5.27],[-5.98,5.24],
[-6.45,5.05],[-6.18,5.07],[-5.95,5.04],
[-6.32,4.85],[-6.08,4.87],
[-6.28,4.65],[-6.0,4.67],
[-6.25,4.45],[-6.4,4.22],
[-6.55,4.45],[-6.3,4.3],[-6.05,4.4],[-6.2,4.15],[-6.6,4.6],[-5.95,4.5],[-6.5,4.85],[-6.75,4.7],[-6.7,5.0],[-6.85,5.3],[-6.1,4.05],[-6.35,4.0]];

const c6 = [[12.45,12.5],[12.62,12.44],[12.78,12.47],[12.92,12.4],[12.3,12.41],[12.15,12.35],[12.05,12.26],[12.0,12.12],[12.2,12.2],[12.55,12.33],[12.7,12.3],[12.85,12.28],[13.0,12.22],[13.12,12.15],[13.2,12.05],[13.3,11.98],[13.25,11.86],[13.1,11.92],[12.98,11.98],[13.35,11.75],[13.2,11.72],[13.05,11.78],[12.9,11.7],[13.4,11.6],[12.1,11.95],[11.98,11.88],[12.2,11.82],[12.05,11.7],[12.15,11.55],[12.3,11.5],[12.45,11.42],[12.6,11.48],[12.75,11.55],[13.3,11.45],[12.2,11.35],[12.1,11.25],[12.35,11.3],[12.18,11.15],[12.55,11.2],[12.85,11.15],[12.48,11.7],[12.62,11.95],[12.35,12.05],[12.8,12.1],[12.5,12.15],
[12.05,11.05],[11.95,10.9],[11.85,10.8],[11.78,10.7],[11.82,10.6],[11.75,10.5],[11.85,10.45],[11.72,10.62],[11.9,10.75],
[12.5,10.84],[12.97,10.66],[12.76,11.17],[12.68,7.51],
[12.4,12.45],[12.7,12.42],[12.25,12.3],[12.4,12.28],[12.9,12.32],[13.05,12.1],[12.08,12.05],[12.25,11.95],[12.28,11.65],[13.15,11.82],[13.22,11.6],[12.4,11.2],[12.65,11.32],[12.12,11.42],[12.38,11.85],[12.72,11.85],[12.95,11.5],[13.05,11.35],[11.9,10.58],[11.8,10.88],
[12.35,12.48],[12.55,12.52],[12.85,12.45],[13.05,12.3],[12.18,12.42],[12.62,12.2],[12.95,12.15],[13.15,12.25]];

const c7 = [[-6.52,9.67],[-6.4,9.62],[-6.27,9.66],[-6.35,9.58],
[-6.63,9.48],[-6.45,9.53],[-6.22,9.49],[-6.55,9.42],[-6.3,9.4],
[-6.7,9.32],[-6.46,9.27],[-6.18,9.31],
[-6.75,9.08],[-6.52,9.13],[-6.3,9.07],[-6.06,9.12],
[-6.8,8.92],[-6.57,8.87],[-6.32,8.91],[-6.04,8.88],
[-6.9,8.68],[-6.66,8.73],[-6.4,8.69],[-6.05,8.72],
[-7.0,8.52],[-6.75,8.47],[-6.5,8.53],[-6.22,8.48],[-5.97,8.51],
[-7.3,8.28],[-7.05,8.33],[-6.78,8.27],[-6.52,8.32],[-6.25,8.26],[-5.98,8.31],
[-7.4,8.12],[-7.12,8.07],[-6.85,8.13],[-6.58,8.08],[-6.3,8.12],[-6.03,8.07],
[-7.45,7.88],[-7.18,7.93],[-6.9,7.87],[-6.63,7.92],[-6.36,7.88],[-6.12,7.93],
[-7.3,7.72],[-7.05,7.67],[-6.8,7.73],[-6.6,7.68],
[-7.2,7.48],[-6.88,7.52],
[-6.5,9.57],[-6.2,9.6],
[-6.6,9.38],[-6.42,9.4],[-6.15,9.42],
[-6.6,9.2],[-6.38,9.22],[-6.15,9.19],
[-6.65,9.0],[-6.42,9.02],[-6.18,8.99],[-6.0,9.02],
[-6.72,8.8],[-6.48,8.82],[-6.22,8.79],[-6.0,8.81],
[-6.85,8.6],[-6.6,8.62],[-6.3,8.59],[-6.08,8.61],
[-7.15,8.4],[-6.9,8.42],[-6.62,8.39],[-6.38,8.41],[-6.1,8.39],
[-7.25,8.2],[-6.98,8.22],[-6.7,8.19],[-6.42,8.21],[-6.15,8.19],
[-7.3,8.0],[-7.02,8.02],[-6.75,7.99],[-6.48,8.01],[-6.2,7.99],
[-7.38,7.8],[-7.12,7.82],[-6.85,7.79],[-6.5,7.81],
[-7.15,7.6],[-6.92,7.62],
[-6.58,9.62],[-6.45,9.7],[-6.32,9.68],[-6.2,9.55],[-6.48,9.5],[-6.68,9.4],[-6.38,9.33],[-6.25,9.25],[-6.55,9.28],[-6.42,9.15]];

const c8 = [[8.32,3.93],[8.52,3.97],
[7.82,3.78],[8.05,3.83],[8.28,3.77],[8.55,3.82],
[7.42,3.63],[7.65,3.68],[7.88,3.62],[8.1,3.67],[8.35,3.63],[8.58,3.66],
[7.26,3.52],[7.48,3.47],[7.7,3.53],[7.92,3.48],[8.16,3.52],[8.45,3.47],
[7.17,3.33],[7.38,3.38],[7.6,3.32],[7.82,3.37],[8.05,3.31],[8.32,3.36],
[7.15,3.22],[7.36,3.17],[7.58,3.23],[7.8,3.18],[8.02,3.22],[8.26,3.17],
[7.26,3.03],[7.48,3.08],[7.7,3.02],[7.93,3.07],[8.18,3.03],
[7.42,2.92],[7.64,2.87],[7.88,2.93],[8.1,2.88],
[7.62,2.73],[7.86,2.78],[8.18,2.72],
[7.82,2.62],[8.28,2.58],[7.96,2.43],
[7.3,3.42],[7.55,3.58],[7.75,3.42],[8.0,3.58],[8.22,3.42],[7.25,3.12],[7.5,3.28],[7.7,3.12],[7.98,3.15],[8.45,3.7],[7.55,2.98],[7.8,2.83]];

const c9 = [[-4.95,5.12],[-4.78,4.72],[-4.72,4.68],[-4.6,4.75],[-4.52,4.73],[-4.42,4.76],[-3.95,4.68],[-3.88,4.62],[-3.82,4.66],[-3.78,4.58],[-3.75,4.52],[-3.85,4.55]];

const c10 = [[-1.38,11.24],[-1.34,11.22],[-1.3,11.2],[-1.27,11.17],[-1.24,11.15],[-1.36,11.21],[-1.32,11.19],[-1.28,11.16],[-1.25,11.14],[-1.35,11.23],[-1.3,11.18],[-1.22,11.13],
[12.6,10.7],[12.35,9.65],[12.5,9.72],[12.28,9.55],[12.42,9.58],[12.3,9.35],[12.38,9.15],
[5.74,-3.81],[5.7,-4.09],[5.8,-4.06]];

const c11 = [[13.3,4.12],[13.62,3.45],[13.9,4.25],[14.05,4.3],[14.12,4.1],[13.95,3.95],[14.15,4.35],[13.85,4.18]];

const clusterPoints = [c0,c1,c2,c3,c4,c5,c6,c7,c8,c9,c10,c11];

const svg = d3.select("#c");
const L=110, R=1070, T=45, B=879;
const x = d3.scaleLinear().domain([-10.11,15.22]).range([L,R]);
const y = d3.scaleLinear().domain([-7.65,13.52]).range([B,T]);

const pts = [];
clusterPoints.forEach((arr,i)=>arr.forEach(p=>pts.push({x:p[0],y:p[1],c:i})));
svg.append("g").selectAll("circle").data(pts).join("circle")
  .attr("cx",d=>x(d.x)).attr("cy",d=>y(d.y)).attr("r",2.3)
  .attr("fill",d=>clusterColors[d.c]).attr("fill-opacity",0.78);

const ax = svg.append("g").attr("transform",`translate(0,${B})`)
  .call(d3.axisBottom(x).tickValues(xTicks).tickFormat(d3.format("d")).tickSize(7).tickPadding(8));
const ay = svg.append("g").attr("transform",`translate(${L},0)`)
  .call(d3.axisLeft(y).tickValues(yTicks).tickFormat(d3.format(".1f")).tickSize(7).tickPadding(8));
[ax,ay].forEach(a=>{
  a.select(".domain").attr("stroke","#222").attr("stroke-width",1.6);
  a.selectAll(".tick line").attr("stroke","#222").attr("stroke-width",1.6);
  a.selectAll(".tick text").attr("font-size",19).attr("fill","#111").attr("font-family","DejaVu Sans");
});
ax.select(".domain").attr("d",`M${L},0H${R}`);
ay.select(".domain").attr("d",`M0,${B}V${T}`);

const lab = svg.append("g");
clusterPoints.forEach((arr,i)=>{
  const mx = d3.mean(arr,d=>d[0]), my = d3.mean(arr,d=>d[1]);
  lab.append("circle").attr("cx",x(mx)).attr("cy",y(my)).attr("r",13).attr("fill","#fff").attr("fill-opacity",0.6);
  lab.append("text").attr("x",x(mx)).attr("y",y(my)).attr("dy","0.36em").attr("text-anchor","middle")
    .attr("font-size",17).attr("font-weight","bold").attr("fill","#000").text(clusterNames[i]);
});

svg.append("text").attr("x",(L+R)/2).attr("y",33).attr("text-anchor","middle").attr("font-size",24.5).attr("fill","#111").text("PBMC 3k — SCTransform clusters");
svg.append("text").attr("x",(L+R)/2).attr("y",940).attr("text-anchor","middle").attr("font-size",20).attr("fill","#111").text("UMAP_1");
svg.append("text").attr("transform",`translate(32,${(T+B)/2}) rotate(-90)`).attr("text-anchor","middle").attr("font-size",20).attr("fill","#111").text("UMAP_2");

const lg = svg.append("g");
const ly = d3.scaleLinear().domain([0,11]).range([69,347]);
clusterNames.forEach((n,i)=>{
  lg.append("circle").attr("cx",1113).attr("cy",ly(i)).attr("r",4.3).attr("fill",clusterColors[i]).attr("fill-opacity",0.78);
  lg.append("text").attr("x",1142).attr("y",ly(i)).attr("dy","0.36em").attr("font-size",15.5).attr("fill","#111").text(n);
});
</script></body></html>
